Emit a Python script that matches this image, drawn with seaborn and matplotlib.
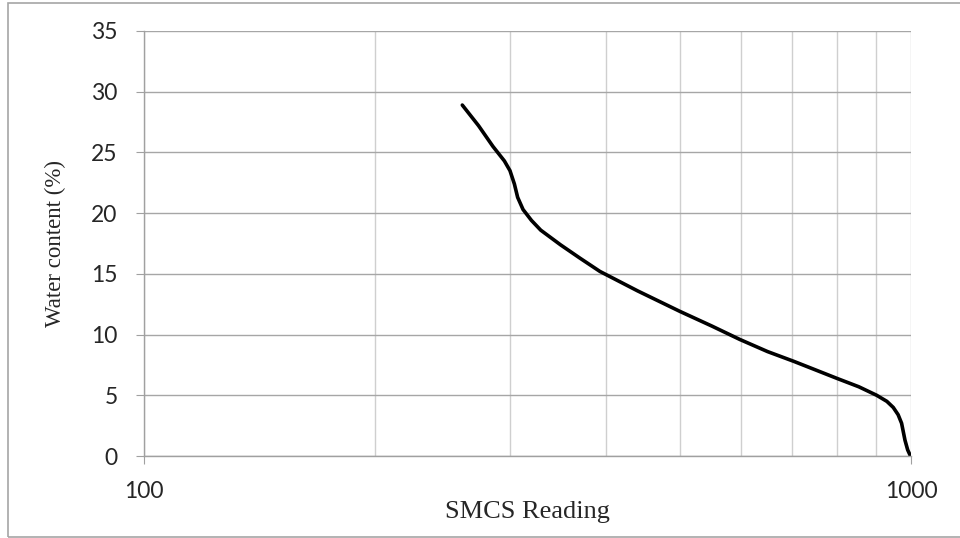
import matplotlib
matplotlib.use('Agg')
import matplotlib.pyplot as plt
import matplotlib.ticker as mticker
from matplotlib.patches import Rectangle
import seaborn as sns
import pandas as pd

# SMCS reading vs water content
smcs = [260, 273, 285, 295, 300, 304, 307, 312, 320, 329, 349, 370, 393, 440,
        500, 550, 598, 650, 703, 750, 800, 855, 902, 930, 948, 962, 972, 982, 990, 997, 1000]
water = [28.9, 27.2, 25.5, 24.3, 23.5, 22.4, 21.3, 20.3, 19.4, 18.6, 17.4, 16.3, 15.2, 13.6,
         11.9, 10.7, 9.6, 8.6, 7.8, 7.1, 6.4, 5.7, 5.0, 4.5, 4.0, 3.4, 2.7, 1.3, 0.5, 0.08, 0.0]

df = pd.DataFrame({'smcs': smcs, 'water': water})

sns.set_style('white')
plt.rcParams['font.family'] = ['Lato', 'DejaVu Sans']

fig = plt.figure(figsize=(9.6, 5.38), dpi=100)
ax = fig.add_axes([0.15, 0.1524, 0.799, 0.79])

sns.lineplot(data=df, x='smcs', y='water', ax=ax, color='black', linewidth=2.6,
             sort=False, estimator=None)

ax.set_xscale('log')
ax.set_xlim(100, 1000)
ax.set_ylim(0, 35)
ax.set_yticks(range(0, 36, 5))
ax.xaxis.set_major_locator(mticker.FixedLocator([100, 1000]))
ax.xaxis.set_major_formatter(mticker.FixedFormatter(['100', '1000']))
ax.xaxis.set_minor_locator(mticker.FixedLocator([200, 300, 400, 500, 600, 700, 800, 900]))
ax.xaxis.set_minor_formatter(mticker.NullFormatter())

ax.grid(True, axis='y', color='#a6a6a6', linewidth=1.0)
ax.grid(True, axis='x', which='both', color='#cfcfcf', linewidth=1.0)
ax.set_axisbelow(True)

for s in ['top', 'right']:
    ax.spines[s].set_visible(False)
for s in ['left', 'bottom']:
    ax.spines[s].set_color('#a0a0a0')
    ax.spines[s].set_linewidth(1.0)

ax.tick_params(axis='y', which='major', length=6, color='#a0a0a0', labelsize=16.5, pad=13,
               left=True)
ax.tick_params(axis='x', which='major', length=6, color='#a0a0a0', labelsize=16.5, pad=12,
               bottom=True)
ax.tick_params(axis='x', which='minor', length=0)

ax.set_xlabel('SMCS Reading', family='Liberation Serif', fontsize=19, labelpad=-1)
ax.set_ylabel('Water content (%)', family='Liberation Serif', fontsize=16.5, labelpad=18)

fig.patches.append(Rectangle((8 / 960, 1 - 537 / 538), 1.0, 534 / 538,
                             transform=fig.transFigure, fill=False,
                             edgecolor='#a6a6a6', linewidth=1.2))

fig.savefig('out.png', dpi=100)
